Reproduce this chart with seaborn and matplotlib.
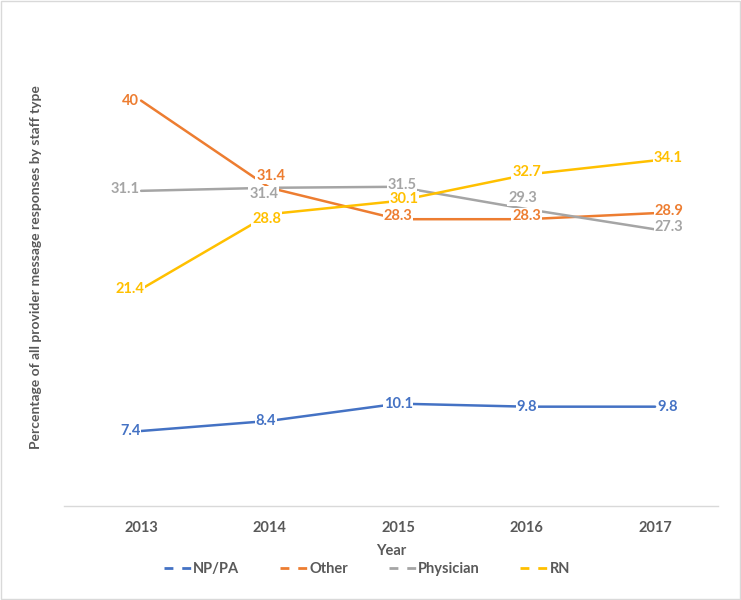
import pandas as pd
import seaborn as sns
import matplotlib.pyplot as plt
from matplotlib.lines import Line2D
from matplotlib.patches import Rectangle

years = [2013, 2014, 2015, 2016, 2017]
np_pa = [7.4, 8.4, 10.1, 9.8, 9.8]
other = [40, 31.4, 28.3, 28.3, 28.9]
physician = [31.1, 31.4, 31.5, 29.3, 27.3]
rn = [21.4, 28.8, 30.1, 32.7, 34.1]
staff = ['NP/PA', 'Other', 'Physician', 'RN']

colors = {'NP/PA': '#4472C4', 'Other': '#ED7D31', 'Physician': '#A5A5A5', 'RN': '#FFC000'}
grey = '#595959'

# label offsets (pixels) so they sit like the excel data labels
offsets = {
    'NP/PA': [(-11, 0), (-4, 0), (0, 0), (0, 0), (13, 0)],
    'Other': [(-11, 0), (1, 12), (0, 3), (0, 3), (14, 2)],
    'Physician': [(-16, 2), (-6, -6), (4, 2), (-4, 11), (14, 2)],
    'RN': [(-11, 0), (-3, -5), (6, 2), (0, 3), (13, 2)],
}

rows = []
for name, vals in zip(staff, [np_pa, other, physician, rn]):
    for y, v in zip(years, vals):
        rows.append({'Year': y, 'value': v, 'staff': name})
df = pd.DataFrame(rows)

sns.set_theme(style='white')
plt.rcParams['font.family'] = ['Lato', 'DejaVu Sans']
fs = 10.5

fig = plt.figure(figsize=(7.41, 6), dpi=100)
ax = fig.add_axes([0.0864, 0.1567, 0.8826, 0.76])
sns.lineplot(data=df, x='Year', y='value', hue='staff', palette=colors,
             linewidth=1.8, ax=ax, legend=False)

for name in staff:
    sub = df[df['staff'] == name]
    for (x, v), (dx, dy) in zip(zip(sub['Year'], sub['value']), offsets[name]):
        ax.annotate(f'{v:g}', (x, v), xytext=(dx, dy), textcoords='offset pixels',
                    ha='center', va='center', fontsize=fs, fontweight='bold',
                    color=colors[name], zorder=5,
                    bbox=dict(boxstyle='square,pad=0.05', fc='white', ec='none'))

ax.set_xlim(2012.4, 2017.49)
ax.set_ylim(0, 45)
ax.set_xticks(years)
ax.set_xticklabels([str(y) for y in years], fontsize=fs, fontweight='bold', color=grey)
ax.set_yticks([])
ax.tick_params(axis='x', length=0, pad=11)
ax.set_xlabel('Year', fontsize=fs, fontweight='bold', color=grey, labelpad=6)
ax.set_ylabel('')
for s in ['top', 'right', 'left']:
    ax.spines[s].set_visible(False)
ax.spines['bottom'].set_color('#D9D9D9')
ax.spines['bottom'].set_linewidth(1)

fig.text(36 / 741, 1 - 267 / 600, 'Percentage of all provider message responses by staff type',
         rotation=90, ha='center', va='center', fontsize=10, fontweight='bold', color=grey)

handles = [Line2D([], [], color=colors[n], linewidth=2, dashes=(3.2, 3.2)) for n in staff]
leg = fig.legend(handles, staff, loc='center', bbox_to_anchor=(0.495, 0.052), ncol=4,
                 frameon=False, handlelength=1.9, handletextpad=0.1, columnspacing=2.8,
                 prop={'weight': 'bold', 'size': fs})
for t in leg.get_texts():
    t.set_color(grey)

fig.patches.append(Rectangle((0.001, 0.001), 0.997, 0.997, transform=fig.transFigure,
                             fill=False, edgecolor='#D9D9D9', linewidth=1))

fig.savefig('out.png', dpi=100)
